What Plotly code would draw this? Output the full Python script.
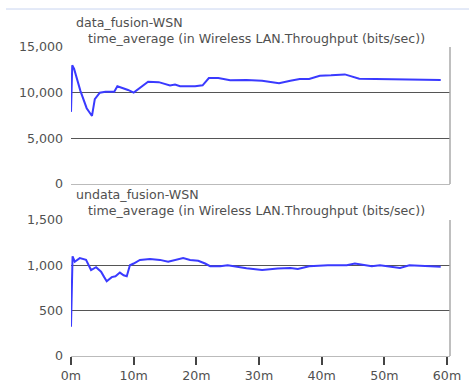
import plotly.graph_objects as go

# data_fusion-WSN time-average throughput (bits/sec), time in minutes
t_fusion = [0.0, 0.2, 0.5, 1.5, 2.5, 3.35, 3.8, 4.6, 5.5, 6.9, 7.4, 8.3, 9.1, 10.0, 11.0, 12.3, 14.0, 15.0, 15.8, 16.6, 17.4, 19.8, 21.0, 22.0, 23.5, 25.4, 28.0, 30.5, 33.2, 35.0, 36.5, 38.0, 39.7, 41.5, 43.7, 46.0, 49.0, 52.0, 54.0, 56.5, 59.0]
v_fusion = [7900, 13000, 12600, 10200, 8300, 7450, 9300, 10000, 10100, 10100, 10700, 10500, 10300, 10000, 10500, 11200, 11150, 11000, 10800, 10900, 10700, 10700, 10800, 11600, 11600, 11350, 11400, 11300, 11030, 11300, 11500, 11500, 11850, 11900, 12000, 11530, 11500, 11390, 11450, 11400, 11400]

# undata_fusion-WSN
t_unfusion = [0.0, 0.1, 0.25, 0.6, 1.4, 2.4, 3.2, 4.0, 4.8, 5.3, 5.7, 6.5, 7.1, 7.8, 8.4, 8.9, 9.4, 10.0, 11.0, 12.6, 14.2, 15.5, 16.6, 17.9, 19.0, 20.3, 21.4, 22.2, 23.8, 25.0, 28.0, 30.5, 33.0, 35.0, 36.2, 38.0, 41.0, 44.0, 45.3, 48.0, 49.3, 52.5, 54.0, 57.0, 59.0]
v_unfusion = [323, 730, 1100, 1040, 1080, 1060, 948, 980, 930, 870, 825, 870, 880, 920, 890, 880, 1000, 1020, 1060, 1070, 1060, 1040, 1060, 1080, 1060, 1050, 1020, 990, 990, 1000, 967, 948, 965, 970, 960, 990, 1000, 1000, 1020, 990, 1000, 970, 1000, 995, 985]

y1_ticks = [0, 5000, 10000, 15000]
y2_ticks = [0, 500, 1000, 1500]
x_ticks = [0, 10, 20, 30, 40, 50, 60]
x_labels = ["0m", "10m", "20m", "30m", "40m", "50m", "60m"]

W, H = 469, 387
def py(px):
    return 1 - px / H

x0, x1 = 71 / W, 450 / W
top_dom = [py(184), py(47)]
bot_dom = [py(356), py(220)]
xr = [0, 60 * 379 / 376]

LINE = "#3a3aff"
FONT = "DejaVu Sans"
FS = 12.6
TXT = "#505050"

fig = go.Figure()
fig.add_trace(go.Scatter(x=t_fusion, y=v_fusion, mode="lines", line=dict(color=LINE, width=2),
                         xaxis="x", yaxis="y", showlegend=False))
fig.add_trace(go.Scatter(x=t_unfusion, y=v_unfusion, mode="lines", line=dict(color=LINE, width=2),
                         xaxis="x2", yaxis="y2", showlegend=False))

common_y = dict(showgrid=True, gridcolor="#555555", gridwidth=1, zeroline=False,
                showline=False, ticks="", tickformat=",d", automargin=False,
                tickfont=dict(family=FONT, size=FS, color=TXT), ticklabelstandoff=7)

fig.update_layout(
    width=W, height=H, margin=dict(l=0, r=0, t=0, b=0, autoexpand=False),
    paper_bgcolor="white", plot_bgcolor="white",
    font=dict(family=FONT, size=FS, color=TXT),
    xaxis=dict(domain=[x0, x1], range=xr, anchor="y", showgrid=False, zeroline=False, automargin=False,
               showticklabels=False, showline=True, linecolor="#bbbbbb", linewidth=1, ticks=""),
    yaxis=dict(domain=top_dom, range=[0, 15000], tickvals=y1_ticks, anchor="x", **common_y),
    xaxis2=dict(domain=[x0, x1], range=xr, anchor="y2", showgrid=False, zeroline=False, automargin=False,
                tickvals=x_ticks, ticktext=x_labels, ticks="outside", ticklen=8, tickwidth=2,
                tickcolor="#444444", showline=True, linecolor="#bbbbbb", linewidth=1,
                tickfont=dict(family=FONT, size=FS, color=TXT)),
    yaxis2=dict(domain=bot_dom, range=[0, 1500], tickvals=y2_ticks, anchor="x2", **common_y),
)

# right borders of the panels
for d in (top_dom, bot_dom):
    fig.add_shape(type="line", xref="paper", yref="paper", x0=x1, x1=x1, y0=d[0], y1=d[1],
                  line=dict(color="#aaaaaa", width=1.5))
# top frame line
fig.add_shape(type="line", xref="paper", yref="paper", x0=6 / W, x1=1, y0=py(9), y1=py(9),
              line=dict(color="#c8d4f0", width=1))

SUB = "\u00a0\u00a0\u00a0time_average (in Wireless LAN.Throughput (bits/sec))"
titles = [
    ("data_fusion-WSN<br>" + SUB, 74, 30),
    ("undata_fusion-WSN<br>" + SUB, 74, 202),
]
for txt, x, y in titles:
    fig.add_annotation(text=txt, xref="paper", yref="paper", x=x / W, y=py(y),
                       xanchor="left", yanchor="middle", align="left", showarrow=False,
                       font=dict(family=FONT, size=FS, color=TXT))

fig.write_html("out.html", config={"displayModeBar": False},
               post_script="document.body.style.margin='0px';document.body.style.overflow='hidden';")
